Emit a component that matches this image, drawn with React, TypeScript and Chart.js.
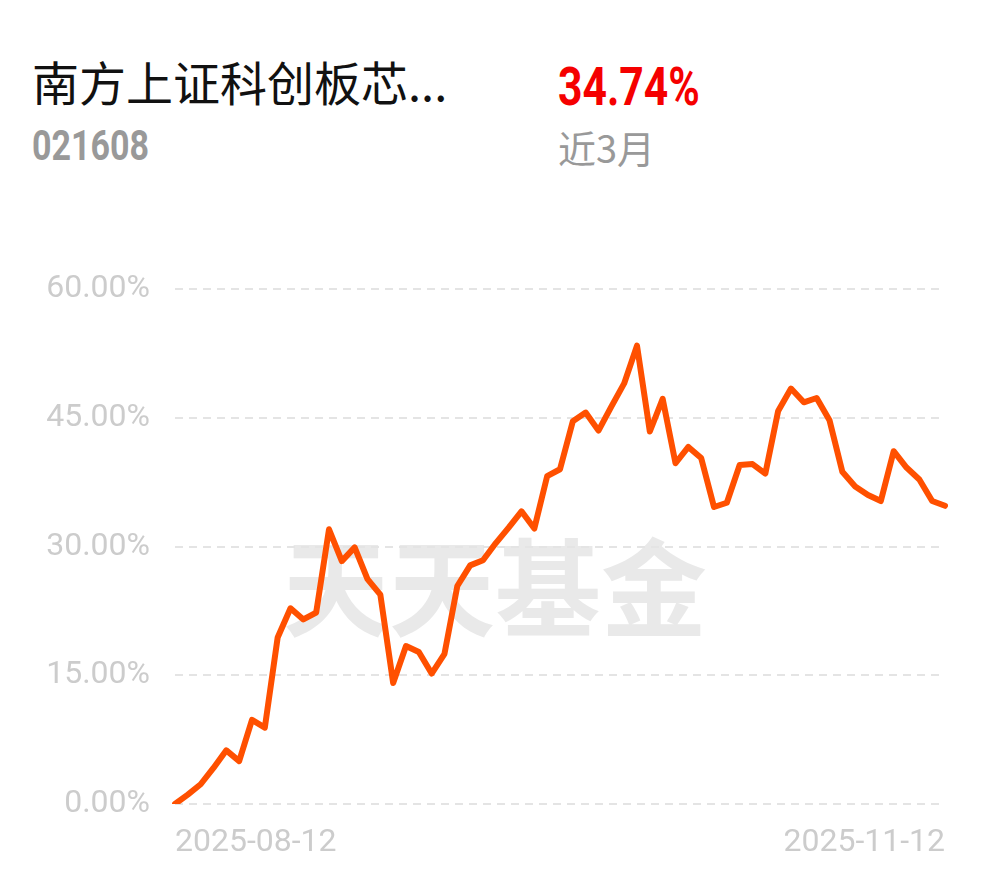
import React, { useEffect, useRef } from "react";
import { Chart, registerables } from "chart.js";

Chart.register(...registerables);

const fundName = "南方上证科创板芯...";
const fundCode = "021608";
const periodReturn = "34.74%";
const periodLabel = "近3月";
const watermark = "天天基金";

const dates: string[] = [
  "2025-08-12", "2025-08-13", "2025-08-14", "2025-08-15", "2025-08-18", "2025-08-19", "2025-08-20",
  "2025-08-21", "2025-08-22", "2025-08-25", "2025-08-26", "2025-08-27", "2025-08-28", "2025-08-29",
  "2025-09-01", "2025-09-02", "2025-09-03", "2025-09-04", "2025-09-05", "2025-09-08", "2025-09-09",
  "2025-09-10", "2025-09-11", "2025-09-12", "2025-09-15", "2025-09-16", "2025-09-17", "2025-09-18",
  "2025-09-19", "2025-09-22", "2025-09-23", "2025-09-24", "2025-09-25", "2025-09-26", "2025-09-29",
  "2025-09-30", "2025-10-09", "2025-10-10", "2025-10-13", "2025-10-14", "2025-10-15", "2025-10-16",
  "2025-10-17", "2025-10-20", "2025-10-21", "2025-10-22", "2025-10-23", "2025-10-24", "2025-10-27",
  "2025-10-28", "2025-10-29", "2025-10-30", "2025-10-31", "2025-11-03", "2025-11-04", "2025-11-05",
  "2025-11-06", "2025-11-07", "2025-11-10", "2025-11-11", "2025-11-12",
];

const returns: number[] = [
  0, 1.1, 2.3, 4.2, 6.25, 5.0, 9.8, 8.9, 19.4, 22.8,
  21.5, 22.3, 32.0, 28.3, 29.9, 26.2, 24.4, 14.1, 18.4, 17.7,
  15.2, 17.5, 25.4, 27.8, 28.4, 30.4, 32.2, 34.1, 32.1, 38.2,
  39.0, 44.6, 45.6, 43.5, 46.3, 49.0, 53.4, 43.4, 47.2, 39.7,
  41.6, 40.3, 34.6, 35.1, 39.5, 39.6, 38.5, 45.8, 48.4, 46.8,
  47.3, 44.7, 38.7, 37.0, 36.0, 35.3, 41.1, 39.2, 37.8, 35.3,
  34.74,
];

const yMin = 0;
const yMax = 60;
const yStep = 15;

const watermarkPlugin = {
  id: "watermark",
  beforeDraw(chart: any) {
    const { ctx, chartArea } = chart;
    ctx.save();
    ctx.font = '700 106px "Noto Sans CJK SC", sans-serif';
    ctx.fillStyle = "#e9e9e9";
    ctx.textAlign = "center";
    ctx.textBaseline = "middle";
    const cx = (chartArea.left + chartArea.right) / 2 - 65;
    const cy = chartArea.top + (chartArea.bottom - chartArea.top) * 0.58;
    ctx.fillText(watermark, cx, cy);
    ctx.restore();
  },
};

export default function App() {
  const ref = useRef<HTMLCanvasElement | null>(null);

  useEffect(() => {
    if (!ref.current) return;
    const chart = new Chart(ref.current, {
      type: "line",
      data: {
        labels: dates,
        datasets: [
          {
            data: returns,
            borderColor: "#ff5000",
            borderWidth: 6,
            pointRadius: 0,
            tension: 0,
            fill: false,
            borderJoinStyle: "round",
            borderCapStyle: "round",
          },
        ],
      },
      options: {
        animation: false,
        responsive: false,
        maintainAspectRatio: false,
        layout: { padding: { left: 0, right: 45, top: 88, bottom: 0 } },
        plugins: { legend: { display: false }, tooltip: { enabled: false } },
        scales: {
          x: {
            type: "category",
            offset: false,
            grid: { display: false, drawTicks: false },
            border: { display: false },
            afterFit: (scale: any) => {
              scale.height = 75;
            },
            ticks: {
              autoSkip: false,
              maxRotation: 0,
              minRotation: 0,
              align: "inner",
              padding: 20,
              color: "#cccccc",
              font: { family: "Roboto", size: 32 },
              callback: (_v: any, i: number) =>
                i === 0 || i === dates.length - 1 ? dates[i] : "",
            },
          },
          y: {
            min: yMin,
            max: yMax,
            grid: { color: "#e4e4e4", lineWidth: 2, drawTicks: false },
            border: { display: false, dash: [8, 6] },
            afterFit: (scale: any) => {
              scale.width = 175;
            },
            ticks: {
              stepSize: yStep,
              padding: 25,
              color: "#cccccc",
              font: { family: "Roboto", size: 32 },
              callback: (v: any) => Number(v).toFixed(2) + "%",
            },
          },
        },
      },
      plugins: [watermarkPlugin],
    });
    return () => chart.destroy();
  }, []);

  return (
    <div
      style={{
        position: "absolute",
        left: 0,
        top: 0,
        width: 990,
        height: 878,
        background: "#ffffff",
        overflow: "hidden",
      }}
    >
      <div
        style={{
          position: "absolute",
          left: 32,
          top: 57,
          fontFamily: '"Noto Sans CJK SC", sans-serif',
          fontSize: 47,
          lineHeight: 1,
          color: "#111111",
          whiteSpace: "nowrap",
        }}
      >
        {fundName}
      </div>
      <div
        style={{
          position: "absolute",
          left: 32,
          top: 125,
          fontFamily: "Roboto, sans-serif",
          fontWeight: 700,
          fontSize: 42,
          lineHeight: 1,
          color: "#999999",
          transform: "scaleX(0.81)",
          transformOrigin: "left top",
          whiteSpace: "nowrap",
        }}
      >
        {fundCode}
      </div>
      <div
        style={{
          position: "absolute",
          left: 558,
          top: 60,
          fontFamily: "Roboto, sans-serif",
          fontWeight: 700,
          fontSize: 54,
          lineHeight: 1,
          color: "#f50000",
          transform: "scaleX(0.79)",
          transformOrigin: "left top",
          whiteSpace: "nowrap",
        }}
      >
        {periodReturn}
      </div>
      <div
        style={{
          position: "absolute",
          left: 558,
          top: 128,
          fontFamily: '"Noto Sans CJK SC", sans-serif',
          fontSize: 38,
          lineHeight: 1,
          color: "#999999",
          whiteSpace: "nowrap",
        }}
      >
        {periodLabel}
      </div>
      <canvas
        ref={ref}
        width={990}
        height={678}
        style={{ position: "absolute", left: 0, top: 201, width: 990, height: 678 }}
      />
    </div>
  );
}
